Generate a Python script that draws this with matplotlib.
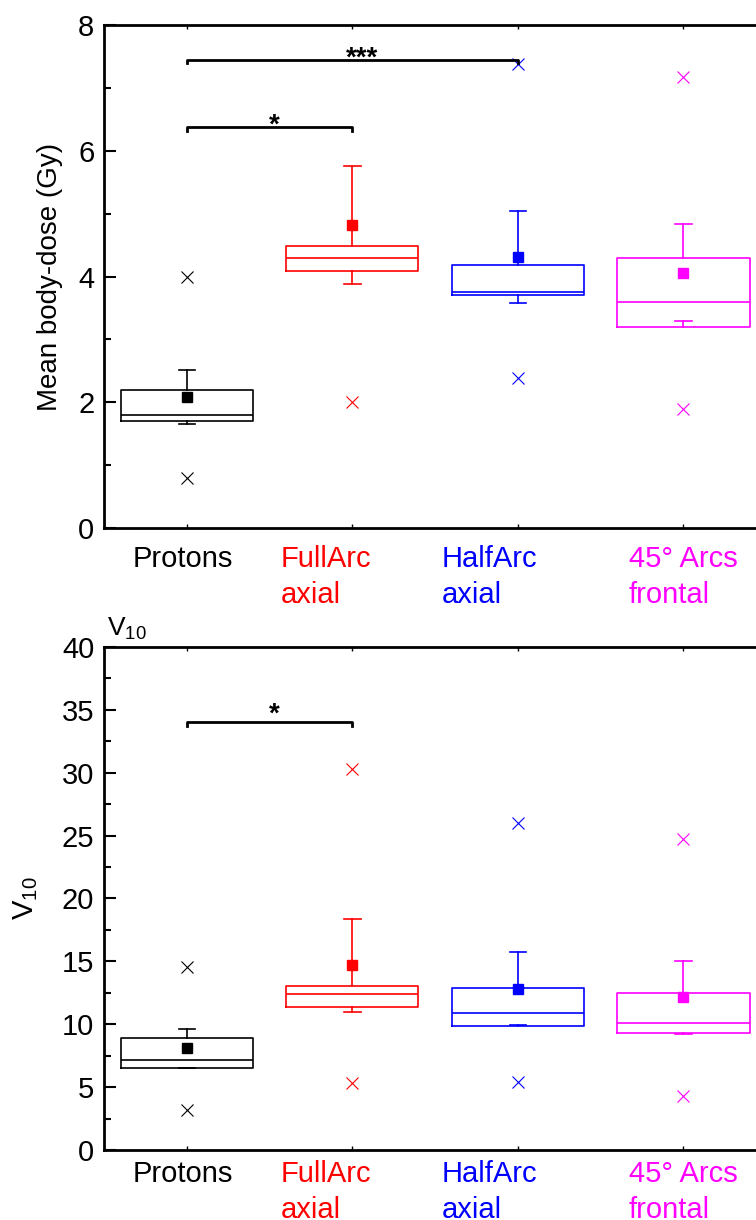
import numpy as np
import matplotlib
matplotlib.use("Agg")
import matplotlib.pyplot as plt
from matplotlib.ticker import MultipleLocator

plt.rcParams['font.family'] = ['Liberation Sans', 'DejaVu Sans']
plt.rcParams['mathtext.default'] = 'regular'

groups = ['Protons', 'FullArc\naxial', 'HalfArc\naxial', '45° Arcs\nfrontal']
colors = ['black', '#ff0000', '#0000ff', '#ff00ff']

# mean body dose (Gy)
dose_q1 = [1.70, 4.09, 3.70, 3.19]
dose_med = [1.80, 4.29, 3.75, 3.59]
dose_q3 = [2.19, 4.49, 4.19, 4.29]
dose_wlo = [1.65, 3.88, 3.58, 3.30]
dose_whi = [2.51, 5.75, 5.04, 4.83]
dose_mean = [2.08, 4.82, 4.31, 4.06]
dose_fliers = [[4.0, 0.8], [2.0], [7.38, 2.39], [7.18, 1.89]]

# V10
v10_q1 = [6.52, 11.35, 9.86, 9.28]
v10_med = [7.18, 12.38, 10.87, 10.13]
v10_q3 = [8.88, 13.04, 12.91, 12.51]
v10_wlo = [6.50, 11.0, 9.90, 9.25]
v10_whi = [9.65, 18.4, 15.72, 15.03]
v10_mean = [8.11, 14.71, 12.80, 12.14]
v10_fliers = [[14.58, 3.21], [30.27, 5.3], [26.03, 5.38], [24.73, 4.32]]

# significance brackets: (from, to, height, label)
dose_sig = [(1, 2, 6.38, '*'), (1, 3, 7.45, '***')]
v10_sig = [(1, 2, 34.0, '*')]

label_x = [0.67, 1.57, 2.54, 3.67]


def draw_panel(ax, q1, med, q3, wlo, whi, mean, fliers, sig, ymax, major, dtick, star_off, lab_y):
    for i in range(len(groups)):
        st = [dict(q1=q1[i], med=med[i], q3=q3[i], whislo=wlo[i], whishi=whi[i],
                   mean=mean[i], fliers=fliers[i])]
        c = colors[i]
        ax.bxp(st, positions=[i + 1], widths=0.8, capwidths=0.1, showmeans=True,
               boxprops=dict(color=c, lw=1.2), medianprops=dict(color=c, lw=1.2),
               whiskerprops=dict(color=c, lw=1.2), capprops=dict(color=c, lw=1.2),
               meanprops=dict(marker='s', markerfacecolor=c, markeredgecolor=c, markersize=7),
               flierprops=dict(marker='x', markeredgecolor=c, markersize=9, markeredgewidth=0.8))
    for a, b, h, lab in sig:
        ax.plot([a, a, b, b], [h - dtick, h, h, h - dtick], color='black', lw=2)
        ax.annotate(lab, ((a + b) / 2 + 0.03 * (b - a), h), xytext=(0, star_off),
                    textcoords='offset points', ha='center', va='baseline',
                    fontsize=20, fontweight='bold')
    ax.set_xlim(0.5, 4.5)
    ax.set_ylim(0, ymax)
    ax.yaxis.set_major_locator(MultipleLocator(major))
    ax.yaxis.set_minor_locator(MultipleLocator(major / 2))
    ax.set_xticks(range(1, len(groups) + 1))
    ax.set_xticklabels([])
    ax.tick_params(axis='y', which='major', direction='in', length=8.5, width=1.5,
                   labelsize=21, pad=7, right=False)
    ax.tick_params(axis='y', which='minor', direction='in', length=5, width=1.5)
    ax.tick_params(axis='x', direction='in', length=3, width=1, top=True)
    for s in ax.spines.values():
        s.set_linewidth(2)
    for i, g in enumerate(groups):
        ax.text(label_x[i], lab_y, g, transform=ax.get_xaxis_transform(), ha='left', va='top',
                color=colors[i], fontsize=21, linespacing=1.38)


fig = plt.figure(figsize=(7.56, 12.2), dpi=100)
ax1 = fig.add_axes([0.1376, 0.5672, 0.8757, 0.4123])
ax2 = fig.add_axes([0.1376, 0.0574, 0.8757, 0.4123])

draw_panel(ax1, dose_q1, dose_med, dose_q3, dose_wlo, dose_whi, dose_mean, dose_fliers,
           dose_sig, 8, 2, 0.06, -4, -0.033)
draw_panel(ax2, v10_q1, v10_med, v10_q3, v10_wlo, v10_whi, v10_mean, v10_fliers,
           v10_sig, 40, 5, 0.3, 0.5, -0.02)

ax1.set_ylabel('Mean body-dose (Gy)', fontsize=20, labelpad=11)
ax2.set_ylabel('V$_{10}$', fontsize=21, labelpad=16)
ax2.text(0.005, 1.01, 'V$_{10}$', transform=ax2.transAxes, ha='left', va='bottom', fontsize=19)

fig.savefig('out.png', dpi=100)
